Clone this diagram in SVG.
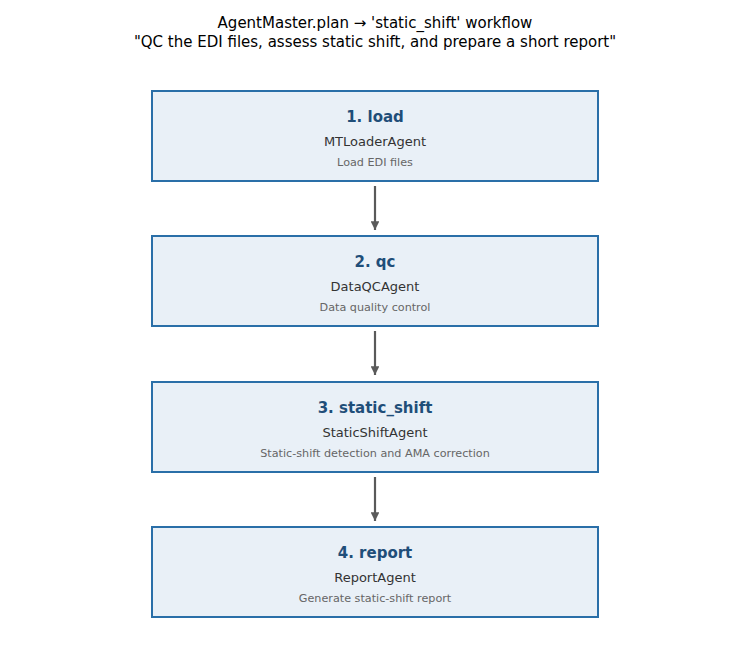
<svg xmlns="http://www.w3.org/2000/svg" width="750" height="660" viewBox="0 0 750 660">
<style>
text{font-family:"DejaVu Sans",sans-serif;text-anchor:middle}
.hd{font-size:15px;fill:#000}
.box{fill:#e9f0f7;stroke:#2a6fa8;stroke-width:2}
.t{font-size:15px;font-weight:bold;fill:#1f4e79}
.a{font-size:13px;fill:#333}
.d{font-size:11.2px;fill:#666}
.e{stroke:#5a5a5a;stroke-width:2.2;fill:none}
</style>
<defs><marker id="ah" viewBox="0 0 10 10" refX="10" refY="5" markerWidth="4" markerHeight="4" orient="auto" markerUnits="strokeWidth"><path d="M0,0 L10,5 L0,10 z" fill="#5a5a5a"/></marker></defs>
<rect width="750" height="660" fill="#fff"/>
<text class="hd" x="375" y="28">AgentMaster.plan → 'static_shift' workflow</text>
<text class="hd" x="375" y="47">"QC the EDI files, assess static shift, and prepare a short report"</text>
<g id="connectors">
<line class="e" x1="375" y1="186" x2="375" y2="230" marker-end="url(#ah)"/>
<line class="e" x1="375" y1="331" x2="375" y2="375" marker-end="url(#ah)"/>
<line class="e" x1="375" y1="477" x2="375" y2="521" marker-end="url(#ah)"/>
</g>
<g id="load"><rect class="box" x="152" y="91" width="446" height="90"/>
<text class="t" x="375" y="122">1. load</text><text class="a" x="375" y="146">MTLoaderAgent</text><text class="d" x="375" y="166">Load EDI files</text></g>
<g id="qc"><rect class="box" x="152" y="236" width="446" height="90"/>
<text class="t" x="375" y="267">2. qc</text><text class="a" x="375" y="291">DataQCAgent</text><text class="d" x="375" y="311">Data quality control</text></g>
<g id="static_shift"><rect class="box" x="152" y="382" width="446" height="90"/>
<text class="t" x="375" y="413">3. static_shift</text><text class="a" x="375" y="437">StaticShiftAgent</text><text class="d" x="375" y="457">Static-shift detection and AMA correction</text></g>
<g id="report"><rect class="box" x="152" y="527" width="446" height="90"/>
<text class="t" x="375" y="558">4. report</text><text class="a" x="375" y="582">ReportAgent</text><text class="d" x="375" y="602">Generate static-shift report</text></g>
</svg>
